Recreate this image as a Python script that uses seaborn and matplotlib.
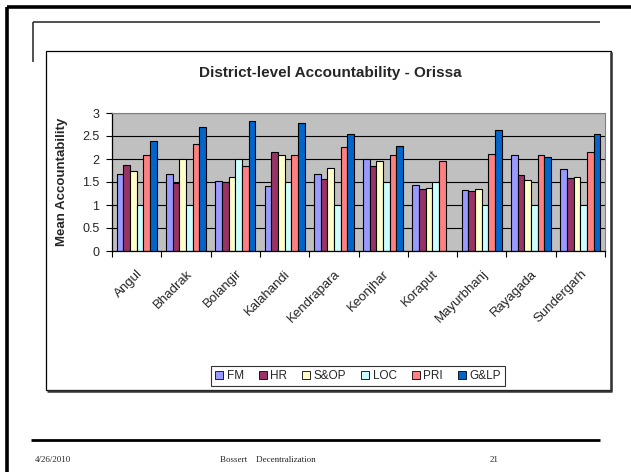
import numpy as np
import pandas as pd
import matplotlib
matplotlib.use("Agg")
import matplotlib.pyplot as plt
from matplotlib.lines import Line2D
from matplotlib.patches import Rectangle, Patch
import seaborn as sns

districts = ["Angul", "Bhadrak", "Bolangir", "Kalahandi", "Kendrapara",
             "Keonjhar", "Koraput", "Mayurbhanj", "Rayagada", "Sundergarh"]
series = ["FM", "HR", "S&OP", "LOC", "PRI", "G&LP"]
fm   = [1.68, 1.68, 1.53, 1.41, 1.68, 1.99, 1.43, 1.32, 2.08, 1.79]
hr   = [1.88, 1.47, 1.50, 2.15, 1.56, 1.84, 1.34, 1.30, 1.66, 1.58]
sop  = [1.73, 1.99, 1.61, 2.09, 1.81, 1.95, 1.37, 1.35, 1.54, 1.61]
loc  = [1.00, 1.00, 1.99, 1.50, 1.00, 1.49, 1.49, 1.00, 1.00, 1.00]
pri  = [2.09, 2.32, 1.85, 2.09, 2.26, 2.08, 1.96, 2.10, 2.08, 2.16]
glp  = [2.40, 2.70, 2.82, 2.78, 2.55, 2.28, np.nan, 2.64, 2.05, 2.54]
colors = ["#9999FF", "#993366", "#FFFFCC", "#CCFFFF", "#FF8080", "#0066CC"]

df = pd.DataFrame({"District": districts, "FM": fm, "HR": hr, "S&OP": sop,
                   "LOC": loc, "PRI": pri, "G&LP": glp})
long = df.melt(id_vars="District", var_name="Series", value_name="Mean")

sns.set_theme(style="white")
plt.rcParams["font.family"] = ["Liberation Sans", "DejaVu Sans"]

W, H = 631, 472
fig = plt.figure(figsize=(W / 100, H / 100), dpi=100)

def fx(x):
    return x / W

def fy(y):
    return 1 - y / H

def fline(x0, y0, x1, y1, lw, color="black"):
    fig.add_artist(Line2D([fx(x0), fx(x1)], [fy(y0), fy(y1)], lw=lw, color=color,
                          transform=fig.transFigure, solid_capstyle="butt"))

# slide decorations
fline(7, 7, 631, 7, 2.6)
fline(7, 7, 7, 472, 2.6)
fline(33, 22, 600, 22, 1.2, "#333333")
fline(33, 22, 33, 62, 1.2, "#333333")
fline(31, 440, 600, 440, 2.0)

# chart box
fig.add_artist(Rectangle((fx(46), fy(390)), fx(611) - fx(46), fy(51) - fy(390),
                         transform=fig.transFigure, fill=False, ec="black", lw=0.9))
fline(611, 52, 611, 391, 1.8, "#333333")
fline(47, 391, 612, 391, 1.8, "#333333")

ax = fig.add_axes([fx(112), fy(251), fx(605) - fx(112), fy(113) - fy(251)])
sns.barplot(data=long, x="District", y="Mean", hue="Series", hue_order=series,
            palette=colors, width=0.81, edgecolor="black", linewidth=0.8,
            ax=ax, legend=False, errorbar=None, saturation=1)
ax.set_facecolor("#C0C0C0")
ax.set_ylim(0, 3)
ax.set_xlim(-0.5, 9.5)
ax.set_yticks(np.arange(0, 3.01, 0.5))
ax.set_yticklabels(["0", "0.5", "1", "1.5", "2", "2.5", "3"], fontsize=9)
ax.yaxis.grid(True, color="black", lw=0.8)
ax.set_axisbelow(True)
for s in ["top", "right"]:
    ax.spines[s].set_color("#808080")
    ax.spines[s].set_linewidth(0.8)
for s in ["left", "bottom"]:
    ax.spines[s].set_color("black")
    ax.spines[s].set_linewidth(0.9)
ax.tick_params(axis="y", length=4, width=0.8, color="black", direction="out", left=True, pad=5)
ax.set_xticks(range(len(districts)))
ax.set_xticklabels(districts, rotation=45, ha="right", rotation_mode="anchor", fontsize=9.5)
ax.tick_params(axis="x", which="major", length=0, pad=12)
ax.set_xticks(np.arange(-0.5, 10, 1), minor=True)
ax.tick_params(axis="x", which="minor", length=4, width=0.8, color="black",
               direction="out", bottom=True)
ax.set_xlabel("")
ax.set_ylabel("Mean Accountability", fontsize=9.5, fontweight="bold", labelpad=10)

fig.text(fx(330), fy(73), "District-level Accountability - Orissa", ha="center",
         va="center", fontsize=11, fontweight="bold")

handles = [Patch(facecolor=c, edgecolor="black", lw=0.6) for c in colors]
leg = fig.legend(handles, series, loc="center", bbox_to_anchor=(fx(358), fy(376)),
                 ncol=6, fontsize=8.5, frameon=True, fancybox=False, handlelength=0.7,
                 handleheight=0.7, handletextpad=0.3, columnspacing=1.25,
                 borderpad=0.3, edgecolor="black")
leg.get_frame().set_linewidth(0.8)

ffam = ["Liberation Serif", "DejaVu Serif"]
fig.text(fx(35), fy(460), "4/26/2010", fontsize=6.5, family=ffam, va="center")
fig.text(fx(220), fy(460), "Bossert    Decentralization", fontsize=6.5, family=ffam, va="center")
fig.text(fx(490), fy(460), "21", fontsize=6.5, family=ffam, va="center")

fig.savefig("out.png", dpi=100, facecolor="white")
